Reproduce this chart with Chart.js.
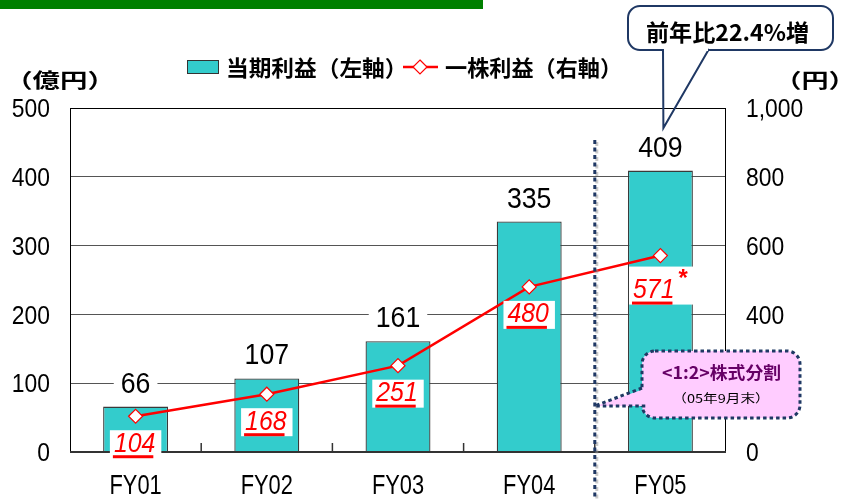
<!DOCTYPE html>
<html><head><meta charset="utf-8">
<script src="https://cdn.jsdelivr.net/npm/chart.js@4.4.1/dist/chart.umd.min.js"></script>
<style>html,body{margin:0;padding:0;background:#fff;overflow:hidden}canvas{display:block}</style>
</head><body>
<canvas id="c" width="842" height="499"></canvas>
<script>
// ---- data ----
const categories = ['FY01', 'FY02', 'FY03', 'FY04', 'FY05'];
const netIncome = [66, 107, 161, 335, 409];          // 当期利益 (億円, left axis)
const eps = [104, 168, 251, 480, 571];               // 一株利益 (円, right axis)
const epsLabels = ['104', '168', '251', '480', '571'];
const epsNote = ['', '', '', '', '*'];
const leftAxis = { min: 0, max: 500, step: 100 };
const rightAxis = { min: 0, max: 1000, step: 200 };
const seriesNames = ['当期利益（左軸）', '一株利益（右軸）'];
const unitLeft = '（億円）';
const unitRight = '（円）';
const calloutText = '前年比22.4%増';
const splitTitle = '<1:2>株式分割';
const splitSub = '（05年9月末）';

// ---- styles ----
const SANS = '"Liberation Sans", Arial, sans-serif';
const JP = '"Noto Sans CJK JP", "Noto Sans", sans-serif';
const TEAL = '#33CCCC';
const RED = '#FF0000';
const NAVY = '#1F3864';

function fitText(ctx, text, left, right, cy, font, color) {
  ctx.save();
  ctx.font = font;
  ctx.textAlign = 'left';
  ctx.textBaseline = 'middle';
  const m = ctx.measureText(text);
  const ink = m.actualBoundingBoxLeft + m.actualBoundingBoxRight;
  const sx = (right - left) / ink;
  ctx.translate(left, cy);
  ctx.scale(sx, 1);
  ctx.fillStyle = color;
  ctx.fillText(text, m.actualBoundingBoxLeft, 0);
  ctx.restore();
}

// horizontally condensed text; returns drawn width
function narrowText(ctx, text, x, y, font, sx, align, color) {
  ctx.save();
  ctx.font = font;
  ctx.textBaseline = 'middle';
  ctx.textAlign = 'left';
  const w = ctx.measureText(text).width * sx;
  let left = x;
  if (align === 'center') left = x - w / 2;
  else if (align === 'right') left = x - w;
  ctx.translate(left, y);
  ctx.scale(sx, 1);
  ctx.fillStyle = color;
  ctx.fillText(text, 0, 0);
  ctx.restore();
  return w;
}
function narrowWidth(ctx, text, font, sx) {
  ctx.save(); ctx.font = font; const w = ctx.measureText(text).width * sx; ctx.restore(); return w;
}

function roundRect(ctx, x, y, w, h, r) {
  ctx.beginPath();
  ctx.moveTo(x + r, y);
  ctx.lineTo(x + w - r, y);
  ctx.arcTo(x + w, y, x + w, y + r, r);
  ctx.lineTo(x + w, y + h - r);
  ctx.arcTo(x + w, y + h, x + w - r, y + h, r);
  ctx.lineTo(x + r, y + h);
  ctx.arcTo(x, y + h, x, y + h - r, r);
  ctx.lineTo(x, y + r);
  ctx.arcTo(x, y, x + r, y, r);
  ctx.closePath();
}

const TICK_FONT = '26px ' + SANS, TICK_SX = 0.88;
const XLAB_FONT = '28px ' + SANS, XLAB_SX = 0.78;
const BAR_FONT = '29px ' + SANS, BAR_SX = 0.92;
const EPS_FONT = 'italic 27px ' + SANS, EPS_SX = 0.92;

const decor = {
  id: 'decor',
  beforeDatasetsDraw(chart) {
    const { ctx, chartArea: a } = chart;
    ctx.save();
    ctx.strokeStyle = '#000';
    ctx.lineWidth = 1;
    ctx.strokeRect(a.left + 0.5, a.top + 0.5, a.right - a.left - 1, a.bottom - a.top);
    ctx.restore();
  },
  afterDatasetsDraw(chart) {
    const { ctx, chartArea: a, scales } = chart;
    const xs = scales.x;
    // bottom axis line and inner ticks
    ctx.save();
    ctx.strokeStyle = '#333';
    ctx.lineWidth = 2;
    ctx.beginPath();
    ctx.moveTo(a.left, a.bottom);
    ctx.lineTo(a.right, a.bottom);
    ctx.stroke();
    ctx.lineWidth = 1.5;
    for (let i = 0; i < categories.length - 1; i++) {
      const x = (xs.getPixelForValue(i) + xs.getPixelForValue(i + 1)) / 2;
      ctx.beginPath();
      ctx.moveTo(x, a.bottom);
      ctx.lineTo(x, a.bottom - 9);
      ctx.stroke();
    }
    ctx.restore();

    // axis tick labels (values from the library's scales)
    const ys = scales.y, ys1 = scales.y1;
    ys.ticks.forEach(t => {
      narrowText(ctx, String(t.value), 50, ys.getPixelForValue(t.value) + 2, TICK_FONT, TICK_SX, 'right', '#000');
    });
    ys1.ticks.forEach(t => {
      narrowText(ctx, t.value.toLocaleString('en-US'), 746, ys1.getPixelForValue(t.value) + 2, TICK_FONT, TICK_SX, 'left', '#000');
    });
    xs.ticks.forEach(t => {
      narrowText(ctx, xs.getLabelForValue(t.value), xs.getPixelForValue(t.value), a.bottom + 34, XLAB_FONT, XLAB_SX, 'center', '#000');
    });

    // bar value labels
    const barMeta = chart.getDatasetMeta(0);
    barMeta.data.forEach((el, i) => {
      const t = String(netIncome[i]);
      const w = narrowWidth(ctx, t, BAR_FONT, BAR_SX);
      const cy = el.y - 23;
      ctx.fillStyle = '#fff';
      ctx.fillRect(el.x - w / 2 - 7, cy - 14, w + 14, 28);
      narrowText(ctx, t, el.x, cy + 1, BAR_FONT, BAR_SX, 'center', '#000');
    });

    // EPS labels
    const lineMeta = chart.getDatasetMeta(1);
    lineMeta.data.forEach((el, i) => {
      const t = epsLabels[i];
      const w = narrowWidth(ctx, t, EPS_FONT, EPS_SX) + 2;
      const wn = epsNote[i] ? narrowWidth(ctx, epsNote[i], 'italic bold 24px ' + SANS, 1) + 2 : 0;
      const total = w + wn;
      const cy = el.y + 27 + (epsNote[i] ? 7 : 0);
      const left = el.x - total / 2;
      ctx.fillStyle = '#fff';
      if (epsNote[i]) ctx.fillRect(left - 4, cy - 23, total + 10, 38);
      else ctx.fillRect(left - 4, cy - 13, total + 8, 28);
      narrowText(ctx, t, left, cy + 1, EPS_FONT, EPS_SX, 'left', RED);
      if (epsNote[i]) {
        narrowText(ctx, epsNote[i], left + w + 1, cy - 10, 'italic bold 24px ' + SANS, 1, 'left', RED);
      }
      ctx.fillStyle = RED;
      ctx.fillRect(left - 1, cy + 12, w - 3, 3);
    });
  },
  afterDraw(chart) {
    const { ctx, scales } = chart;
    const xs = scales.x;
    // green top band
    ctx.save();
    ctx.fillStyle = '#008000';
    ctx.fillRect(0, 0, 483, 9);
    ctx.restore();

    // unit labels
    fitText(ctx, unitLeft, 23, 97, 80, 'bold 20px ' + JP, '#000');
    fitText(ctx, unitRight, 792, 838, 80, 'bold 20px ' + JP, '#000');

    // legend
    ctx.save();
    ctx.fillStyle = TEAL;
    ctx.fillRect(187, 60, 32, 14);
    ctx.strokeStyle = '#333';
    ctx.lineWidth = 1;
    ctx.strokeRect(187.5, 60.5, 31, 13);
    ctx.strokeStyle = RED;
    ctx.lineWidth = 2.5;
    ctx.beginPath();
    ctx.moveTo(403, 67);
    ctx.lineTo(438, 67);
    ctx.stroke();
    ctx.fillStyle = '#fff';
    ctx.lineWidth = 1.2;
    ctx.beginPath();
    ctx.moveTo(420, 60); ctx.lineTo(427, 67); ctx.lineTo(420, 74); ctx.lineTo(413, 67); ctx.closePath();
    ctx.fill(); ctx.stroke();
    ctx.restore();
    fitText(ctx, seriesNames[0], 228, 393, 68, 'bold 22px ' + JP, '#000');
    fitText(ctx, seriesNames[1], 445, 608, 68, 'bold 22px ' + JP, '#000');

    // callout (top right)
    ctx.save();
    ctx.strokeStyle = NAVY;
    ctx.lineWidth = 2;
    ctx.fillStyle = '#fff';
    roundRect(ctx, 628, 6, 205, 44, 12);
    ctx.fill();
    ctx.stroke();
    const tipX = xs.getPixelForValue(4) + 3;
    ctx.beginPath();
    ctx.moveTo(663, 49);
    ctx.lineTo(tipX, 128);
    ctx.lineTo(709, 49);
    ctx.stroke();
    ctx.fillStyle = '#fff';
    ctx.fillRect(664, 47, 44, 4);
    ctx.restore();
    fitText(ctx, calloutText, 647, 808, 32, 'bold 23px ' + JP, '#000');

    // dotted split line
    const sx = (xs.getPixelForValue(3) + xs.getPixelForValue(4)) / 2;
    ctx.save();
    ctx.strokeStyle = 'rgba(150,150,150,0.5)';
    ctx.lineWidth = 3;
    ctx.setLineDash([4, 3.5]);
    ctx.beginPath();
    ctx.moveTo(sx + 2, 142);
    ctx.lineTo(sx + 2, 501);
    ctx.stroke();
    ctx.strokeStyle = NAVY;
    ctx.beginPath();
    ctx.moveTo(sx, 140);
    ctx.lineTo(sx, 499);
    ctx.stroke();
    ctx.restore();

    // split annotation box
    ctx.save();
    ctx.fillStyle = '#FFCCFF';
    ctx.strokeStyle = NAVY;
    ctx.lineWidth = 3;
    ctx.setLineDash([3.5, 3]);
    roundRect(ctx, 642, 351, 158, 67, 13);
    ctx.fill();
    ctx.stroke();
    ctx.setLineDash([]);
    ctx.beginPath();
    ctx.moveTo(644, 389);
    ctx.lineTo(sx + 1, 406);
    ctx.lineTo(646, 406);
    ctx.closePath();
    ctx.fill();
    ctx.setLineDash([3.5, 3]);
    ctx.beginPath();
    ctx.moveTo(642, 388);
    ctx.lineTo(sx, 406);
    ctx.lineTo(646, 406);
    ctx.stroke();
    ctx.restore();
    fitText(ctx, splitTitle, 662, 780, 373, 'bold 17px ' + JP, '#660066');
    fitText(ctx, splitSub, 682, 760, 398, '12px ' + JP, '#000');
  }
};

new Chart(document.getElementById('c'), {
  data: {
    labels: categories,
    datasets: [
      {
        type: 'bar',
        label: seriesNames[0],
        data: netIncome,
        yAxisID: 'y',
        backgroundColor: TEAL,
        borderColor: '#3a3a3a',
        borderWidth: 1.3,
        categoryPercentage: 1,
        barPercentage: 0.495,
        order: 1
      },
      {
        type: 'line',
        label: seriesNames[1],
        data: eps,
        yAxisID: 'y1',
        borderColor: RED,
        borderWidth: 2.5,
        pointStyle: 'rectRot',
        pointRadius: 7,
        pointBackgroundColor: '#fff',
        pointBorderColor: RED,
        pointBorderWidth: 1.2,
        tension: 0,
        order: 0
      }
    ]
  },
  options: {
    responsive: false,
    animation: false,
    devicePixelRatio: 1,
    layout: { padding: { top: 108, left: 0, right: 0, bottom: 0 } },
    plugins: { legend: { display: false }, tooltip: { enabled: false } },
    scales: {
      x: {
        grid: { display: false, drawTicks: false },
        border: { display: false },
        ticks: { display: false },
        afterFit(s) { s.height = 47; }
      },
      y: {
        position: 'left',
        min: leftAxis.min, max: leftAxis.max,
        ticks: { stepSize: leftAxis.step, display: false },
        grid: { color: '#555', lineWidth: 1, drawTicks: false },
        border: { display: false },
        afterFit(s) { s.width = 70; }
      },
      y1: {
        position: 'right',
        min: rightAxis.min, max: rightAxis.max,
        ticks: { stepSize: rightAxis.step, display: false },
        grid: { display: false, drawTicks: false },
        border: { display: false },
        afterFit(s) { s.width = 116; }
      }
    }
  },
  plugins: [decor]
});
</script>
</body></html>
